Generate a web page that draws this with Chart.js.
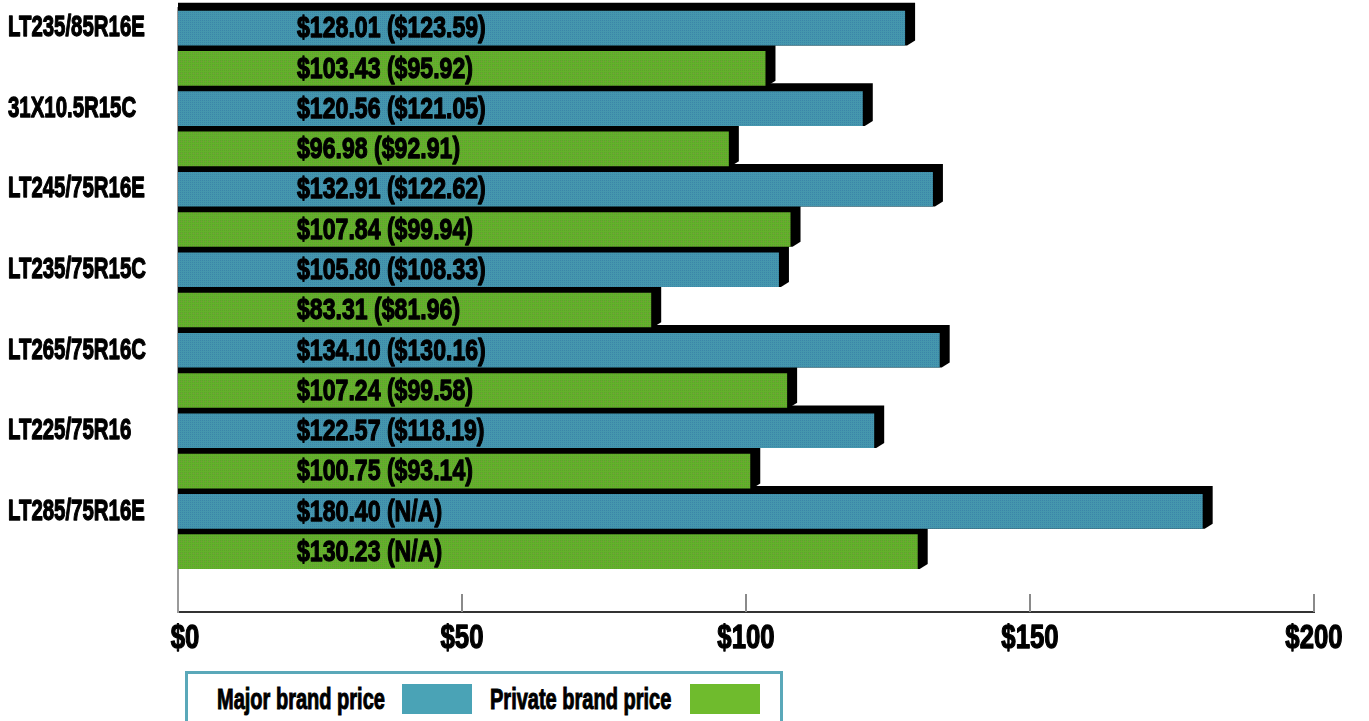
<!DOCTYPE html>
<html>
<head>
<meta charset="utf-8">
<title>Light truck tire prices</title>
<script src="https://cdn.jsdelivr.net/npm/chart.js@4.4.1/dist/chart.umd.min.js"></script>
<style>
  html, body { margin: 0; padding: 0; background: #fff; }
  #wrap { position: relative; width: 1369px; height: 721px; overflow: hidden; }
  #priceChart { position: absolute; left: 0; top: 0; }
  .legend {
    position: absolute; left: 185px; top: 671px; width: 598px; height: 60px;
    border: 3px solid #5aa8b9; box-sizing: border-box;
    font: bold 29px "Liberation Sans", Arial, sans-serif; color: #000;
  }
  .legend span { position: absolute; top: 8px; line-height: 34px; white-space: nowrap;
    -webkit-text-stroke: 1px #000;
    transform: scaleX(0.69); transform-origin: 0 50%; }
  .legend i { position: absolute; top: 10px; width: 70px; height: 30px; }
</style>
</head>
<body>
<div id="wrap">
  <canvas id="priceChart" width="1369" height="660"></canvas>
  <div class="legend">
    <span style="left:29px">Major brand price</span>
    <i style="left:214px; background:#4aa3b6"></i>
    <span style="left:302px">Private brand price</span>
    <i style="left:502px; background:#6fbb2d"></i>
  </div>
</div>
<script>
// --- dados ---
const sizes = ['LT235/85R16E', '31X10.5R15C', 'LT245/75R16E', 'LT235/75R15C', 'LT265/75R16C', 'LT225/75R16', 'LT285/75R16E'];
const majorPrice = [128.01, 120.56, 132.91, 105.80, 134.10, 122.57, 180.40];
const majorPrior = [123.59, 121.05, 122.62, 108.33, 130.16, 118.19, null];
const privatePrice = [103.43, 96.98, 107.84, 83.31, 107.24, 100.75, 130.23];
const privatePrior = [95.92, 92.91, 99.94, 81.96, 99.58, 93.14, null];
const xTicks = [0, 50, 100, 150, 200];

const FONT = '"Liberation Sans", Arial, sans-serif';

// one row per bar, label only on the major brand row, plus an empty row above the axis
const rowLabels = [];
const majorRows = [];
const privateRows = [];
sizes.forEach((s, i) => {
  rowLabels.push(s, '');
  majorRows.push(majorPrice[i], null);
  privateRows.push(null, privatePrice[i]);
});
rowLabels.push('');
majorRows.push(null);
privateRows.push(null);

const money = v => v == null ? 'N/A' : '$' + v.toFixed(2);
const rowText = [];
sizes.forEach((s, i) => {
  rowText.push(money(majorPrice[i]) + ' (' + money(majorPrior[i]) + ')');
  rowText.push(money(privatePrice[i]) + ' (' + money(privatePrior[i]) + ')');
});

// dithered fill like the printed bars
function ditherFill(a, b, dot) {
  const c = document.createElement('canvas');
  c.width = 4; c.height = 4;
  const g = c.getContext('2d');
  g.fillStyle = a; g.fillRect(0, 0, 4, 4);
  g.fillStyle = b;
  g.fillRect(0, 0, 1, 1); g.fillRect(2, 2, 1, 1); g.fillRect(2, 0, 1, 1); g.fillRect(0, 2, 1, 1);
  if (dot) { g.fillStyle = dot; g.fillRect(1, 1, 1, 1); }
  return g.createPattern(c, 'repeat');
}
const blueFill = ditherFill('#4597ad', '#3b85a9');
const greenFill = ditherFill('#64b12b', '#5ba52c', '#7d9146');

// condensed heavy text (squeezed horizontally, outlined to thicken)
function narrowText(ctx, text, x, y, size, sx, align) {
  ctx.save();
  ctx.font = 'bold ' + size + 'px ' + FONT;
  ctx.textBaseline = 'middle';
  ctx.textAlign = align;
  ctx.fillStyle = '#000';
  ctx.strokeStyle = '#000';
  ctx.lineWidth = 1.3;
  ctx.lineJoin = 'round';
  ctx.translate(x, y);
  ctx.scale(sx, 1);
  ctx.fillText(text, 0, 0);
  ctx.strokeText(text, 0, 0);
  ctx.restore();
}

const extrude = {
  id: 'extrude',
  // black extrusion behind every bar (top and right side)
  beforeDatasetsDraw(chart) {
    const ctx = chart.ctx;
    const dx = 10, dy = 8;
    ctx.save();
    ctx.fillStyle = '#000';
    chart.data.datasets.forEach((ds, di) => {
      chart.getDatasetMeta(di).data.forEach((bar, j) => {
        if (ds.data[j] == null) return;
        const top = bar.y - bar.height / 2, bottom = bar.y + bar.height / 2;
        ctx.beginPath();
        ctx.moveTo(bar.base, top - dy);
        ctx.lineTo(bar.x + dx, top - dy);
        ctx.lineTo(bar.x + dx, bottom - 5);
        ctx.lineTo(bar.x + 2, bottom);
        ctx.lineTo(bar.base, bottom);
        ctx.closePath();
        ctx.fill();
      });
    });
    ctx.restore();
  },
  afterDatasetsDraw(chart) {
    const ctx = chart.ctx;
    // price labels inside the bars
    chart.data.datasets.forEach((ds, di) => {
      chart.getDatasetMeta(di).data.forEach((bar, j) => {
        if (ds.data[j] == null) return;
        narrowText(ctx, rowText[j], bar.base + 119, bar.y + 1, 30, 0.77, 'left');
      });
    });
    // tire sizes on the left
    const ys = chart.scales.y;
    rowLabels.forEach((t, i) => {
      if (t) narrowText(ctx, t, 8, ys.getPixelForTick(i), 30, 0.68, 'left');
    });
    // tick marks rising from the axis, dollar labels below
    const xs = chart.scales.x;
    const yAxis = chart.chartArea.bottom;
    ctx.save();
    ctx.strokeStyle = '#8a8a8a';
    ctx.lineWidth = 2;
    xTicks.forEach(v => {
      const px = xs.getPixelForValue(v);
      if (v > 0) {
        ctx.beginPath();
        ctx.moveTo(px, yAxis - 18);
        ctx.lineTo(px, yAxis);
        ctx.stroke();
      }
      narrowText(ctx, '$' + v, px + (v === 0 ? 7 : 0), yAxis + 27, 33, 0.78, 'center');
    });
    ctx.restore();
  }
};

new Chart(document.getElementById('priceChart'), {
  type: 'bar',
  data: {
    labels: rowLabels,
    datasets: [
      { label: 'Major brand price', data: majorRows, backgroundColor: blueFill },
      { label: 'Private brand price', data: privateRows, backgroundColor: greenFill }
    ]
  },
  options: {
    indexAxis: 'y',
    responsive: false,
    animation: false,
    grouped: false,
    barPercentage: 0.86,
    categoryPercentage: 1,
    layout: { padding: { left: 8, right: 55, top: 8, bottom: 0 } },
    scales: {
      x: {
        min: 0, max: 200,
        afterBuildTicks: s => { s.ticks = xTicks.map(v => ({ value: v })); },
        afterFit: s => { s.height = 48; },
        grid: { display: false, drawTicks: false },
        border: { display: true, color: '#333', width: 2 },
        ticks: { display: false }
      },
      y: {
        afterFit: s => { s.width = 170; },
        grid: { display: false, drawTicks: false },
        border: { display: true, color: '#9a9a9a', width: 2 },
        ticks: { display: false, autoSkip: false }
      }
    },
    plugins: {
      legend: { display: false },
      tooltip: { enabled: false }
    }
  },
  plugins: [extrude]
});
</script>
</body>
</html>
